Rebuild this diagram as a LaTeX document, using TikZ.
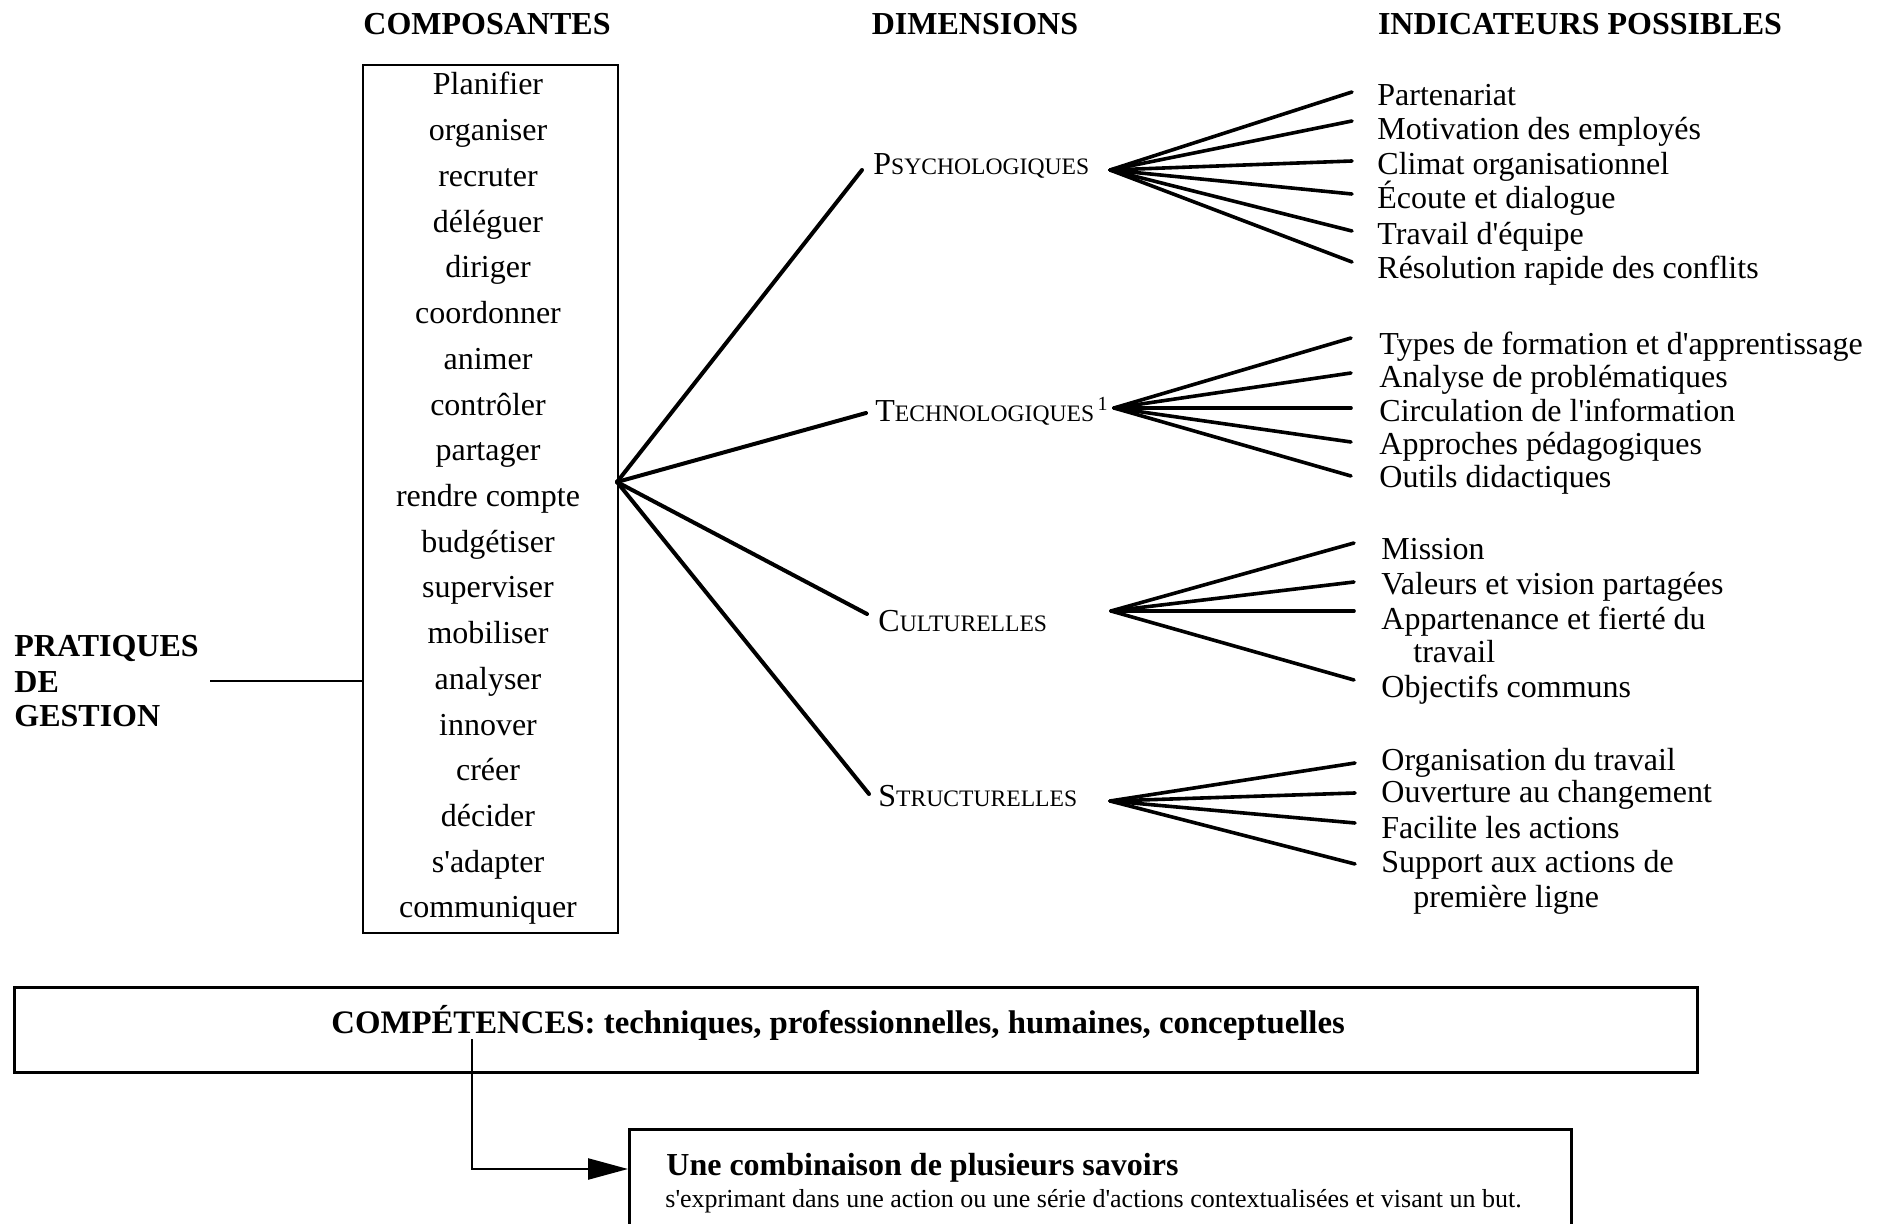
\documentclass[tikz,border=0pt]{standalone}
\usepackage{fontspec}
\setmainfont{Liberation Serif}[Ligatures=TeXOff]
\usetikzlibrary{arrows.meta}
\newcommand\txtsize{\fontsize{16}{19}\selectfont}
\newcommand\dimcap[2]{{\fontsize{16}{19}\selectfont #1}{\fontsize{11.8}{14}\selectfont #2}}
\begin{document}
\begin{tikzpicture}[x=0.5pt,y=-0.5pt,
  hdr/.style={font=\bfseries\txtsize,anchor=base,inner sep=0},
  item/.style={font=\txtsize,anchor=base,inner sep=0},
  ind/.style={font=\txtsize,anchor=base west,inner sep=0},
  dim/.style={anchor=base west,inner sep=0},
  frame/.style={draw,line width=1.2pt,inner sep=0,anchor=north west},
  wide/.style={draw,line width=1.5pt,inner sep=0,anchor=north west},
  fanA/.style={line width=2pt,line cap=round,line join=round},
  fanB/.style={line width=1.8pt,line cap=round,line join=round},
  thin/.style={line width=1.1pt}]
\useasboundingbox (0,0) rectangle (1886,1224);

% column headings
\node[hdr] (hcomp) at (487,35) {COMPOSANTES};
\node[hdr] (hdim)  at (975,35) {DIMENSIONS};
\node[hdr] (hind)  at (1580,35) {INDICATEURS POSSIBLES};

% left label
\node[font=\bfseries\txtsize,anchor=base west,inner sep=0] (prat1) at (14,657) {PRATIQUES};
\node[font=\bfseries\txtsize,anchor=base west,inner sep=0] (prat2) at (14,693) {DE};
\node[font=\bfseries\txtsize,anchor=base west,inner sep=0] (prat3) at (14,727) {GESTION};
\coordinate (pratend) at (210,681);

% components box
\node[frame,minimum width=127.5pt,minimum height=434pt] (cbox) at (362,64) {};
\foreach \t [count=\i from 0] in {Planifier,organiser,recruter,déléguer,diriger,coordonner,animer,contrôler,partager,rendre compte,budgétiser,superviser,mobiliser,analyser,innover,créer,décider,s'adapter,communiquer}
  \node[item] (c\i) at (488,{95+45.72*\i}) {\t};
\draw[thin] (pratend) -- (pratend -| cbox.west);

% dimensions
\node[dim] (psy) at (873,175) {\dimcap{P}{SYCHOLOGIQUES}};
\node[dim] (tec) at (875,422) {\dimcap{T}{ECHNOLOGIQUES}{\fontsize{10}{12}\selectfont\raisebox{5.5pt}{\,1}}};
\node[dim] (cul) at (878,632) {\dimcap{C}{ULTURELLES}};
\node[dim] (str) at (878,806) {\dimcap{S}{TRUCTURELLES}};

\coordinate (cfan) at (617,482);
\coordinate (psyL) at (862,170);
\coordinate (tecL) at (866,413);
\coordinate (culL) at (867,614);
\coordinate (strL) at (869,794);
\draw[fanA] (cfan) -- (psyL);
\draw[fanA] (cfan) -- (tecL);
\draw[fanA] (cfan) -- (culL);
\draw[fanA] (cfan) -- (strL);

% indicators: psychological
\node[ind] (p1) at (1377,106) {Partenariat};
\node[ind] (p2) at (1377,140) {Motivation des employés};
\node[ind] (p3) at (1377,175) {Climat organisationnel};
\node[ind] (p4) at (1377,209) {Écoute et dialogue};
\node[ind] (p5) at (1377,245) {Travail d'équipe};
\node[ind] (p6) at (1377,279) {Résolution rapide des conflits};
\coordinate (psyR) at (1110,170);
\foreach \n/\y in {1/92,2/121,3/161,4/194,5/231,6/262}
  \draw[fanB] (psyR) -- (1352,\y) coordinate (pe\n);

% indicators: technological
\node[ind] (t1) at (1379,355) {Types de formation et d'apprentissage};
\node[ind] (t2) at (1379,388) {Analyse de problématiques};
\node[ind] (t3) at (1379,422) {Circulation de l'information};
\node[ind] (t4) at (1379,455) {Approches pédagogiques};
\node[ind] (t5) at (1379,488) {Outils didactiques};
\coordinate (tecR) at (1114,408);
\foreach \n/\y in {1/338,2/373,3/408,4/442,5/476}
  \draw[fanB] (tecR) -- (1351,\y) coordinate (te\n);

% indicators: cultural
\node[ind] (u1) at (1381,560) {Mission};
\node[ind] (u2) at (1381,595) {Valeurs et vision partagées};
\node[ind] (u3) at (1381,630) {Appartenance et fierté du};
\node[ind] (u3b) at (1413,663) {travail};
\node[ind] (u4) at (1381,698) {Objectifs communs};
\coordinate (culR) at (1111,611);
\foreach \n/\y in {1/543,2/582,3/611,4/680}
  \draw[fanB] (culR) -- (1354,\y) coordinate (ue\n);

% indicators: structural
\node[ind] (s1) at (1381,770) {Organisation du travail};
\node[ind] (s2) at (1381,803) {Ouverture au changement};
\node[ind] (s3) at (1381,838) {Facilite les actions};
\node[ind] (s4) at (1381,872) {Support aux actions de};
\node[ind] (s4b) at (1413,907) {première ligne};
\coordinate (strR) at (1110,801);
\foreach \n/\y in {1/763,2/793,3/823,4/864}
  \draw[fanB] (strR) -- (1355,\y) coordinate (se\n);

% competences
\node[wide,minimum width=841.5pt,minimum height=42.5pt] (compbox) at (13,986) {};
\node[font=\bfseries\fontsize{16.4}{19}\selectfont,anchor=base west,inner sep=0] (comptxt) at (331,1033) {COMPÉTENCES: techniques, professionnelles, humaines, conceptuelles};

\node[wide,minimum width=471pt,minimum height=62pt] (combobox) at (628,1128) {};
\node[font=\bfseries\txtsize,anchor=base west,inner sep=0] (combo1) at (666,1175) {Une combinaison de plusieurs savoirs};
\node[font=\fontsize{13}{15}\selectfont,anchor=base west,inner sep=0] (combo2) at (665,1207) {s'exprimant dans une action ou une série d'actions contextualisées et visant un but.};

\coordinate (arrstart) at (472,1039);
\coordinate (arrturn) at (472,1169);
\draw[line width=1.2pt,-{Triangle[length=20pt,width=10.5pt]}] (arrstart) -- (arrturn) -- (arrturn -| combobox.west);
\end{tikzpicture}
\end{document}
